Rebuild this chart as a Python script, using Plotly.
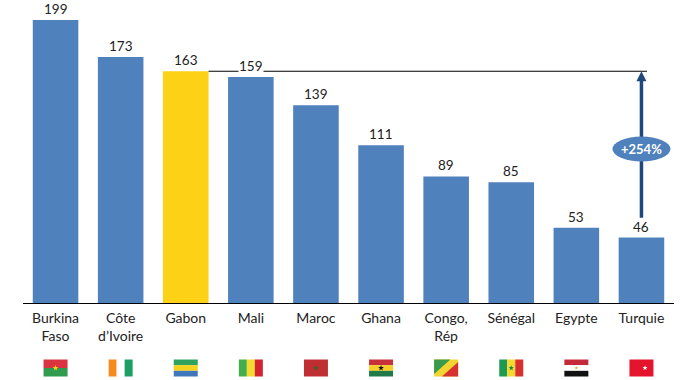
import math
import plotly.graph_objects as go

categories = ["Burkina<br>Faso", "Côte<br>d’Ivoire", "Gabon", "Mali", "Maroc", "Ghana",
              "Congo,<br>Rép", "Sénégal", "Egypte", "Turquie"]
values = [199, 173, 163, 159, 139, 111, 89, 85, 53, 46]
bar_colors = ["#4F81BD", "#4F81BD", "#FCD116", "#4F81BD", "#4F81BD", "#4F81BD",
              "#4F81BD", "#4F81BD", "#4F81BD", "#4F81BD"]
reference_value = 163
arrow_base_value = 60
badge_text = "+254%"

FONT = "Lato, Carlito, Calibri, sans-serif"
TXT = "#222222"
W, H = 686, 380
L, R, T, B = 23, 12, 0, 77
PLOT_H = H - T - B
ARROW = "#1F497D"
W_F, H_F = 12, 8.5

fig = go.Figure(go.Bar(x=categories, y=values, marker=dict(color=bar_colors, line_width=0),
                       width=0.7, hoverinfo="skip"))


def rect(x0, y0, x1, y1):
    return f"M{x0},{y0} L{x1},{y0} L{x1},{y1} L{x0},{y1} Z"


def star(cx, cy, r, n=5):
    pts = []
    for k in range(2 * n):
        rad = r if k % 2 == 0 else r * 0.42
        a = math.pi / 2 + k * math.pi / n
        pts.append((cx + rad * math.cos(a), cy + rad * math.sin(a)))
    return "M" + " L".join(f"{px:.2f},{py:.2f}" for px, py in pts) + " Z"


def circle(cx, cy, rx, ry=None):
    ry = ry or rx
    return (f"M{cx-rx},{cy} A{rx},{ry} 0 1 0 {cx+rx},{cy} "
            f"A{rx},{ry} 0 1 0 {cx-rx},{cy} Z")


def hstripes(cols, weights=None):
    weights = weights or [1] * len(cols)
    total, y, out = sum(weights), H_F, []
    for c, w in zip(cols, weights):
        h = 2 * H_F * w / total
        out.append((rect(-W_F, y, W_F, y - h), c))
        y -= h
    return out


def vstripes(cols):
    x, out = -W_F, []
    w = 2 * W_F / len(cols)
    for c in cols:
        out.append((rect(x, -H_F, x + w, H_F), c))
        x += w
    return out


flags = [
    hstripes(["#D9343F", "#2E9B4F"]) + [(star(0, 0, 3), "#F5D020")],
    vstripes(["#F58A1F", "#FFFFFF", "#1F9E63"]),
    hstripes(["#2FA35E", "#F4D21F", "#3F77BD"]),
    vstripes(["#45AE4C", "#F5D92E", "#D2232F"]),
    [(rect(-W_F, -H_F, W_F, H_F), "#BE2E33"), (star(0, 0, 3.2), "#4A5A30")],
    hstripes(["#C8303A", "#F5CF25", "#1F7A4A"]) + [(star(0, 0, 3), "#111111")],
    [(rect(-W_F, -H_F, W_F, H_F), "#F2D530"),
     (f"M{-W_F},{H_F} L{W_F*0.35},{H_F} L{-W_F},{-H_F*0.7} Z", "#3A9A4B"),
     (f"M{W_F},{-H_F} L{-W_F*0.35},{-H_F} L{W_F},{H_F*0.7} Z", "#D8322E")],
    vstripes(["#1E9A50", "#F5D92E", "#D9302F"]) + [(star(0, 0, 2.8), "#1E8A4A")],
    hstripes(["#C42B3A", "#FFFFFF", "#111111"]) + [(star(0, 0, 2), "#D8B64A")],
    [(rect(-W_F, -H_F, W_F, H_F), "#E3142B"),
     (circle(-3, 0, 5), "#FFFFFF"), (circle(-1.6, 0, 4), "#E3142B"),
     (star(3.6, 0, 2.6), "#FFFFFF")],
]

anchor_y = -(368 - PLOT_H) / PLOT_H
shapes = []
for i, parts in enumerate(flags):
    for path, col in parts:
        shapes.append(dict(type="path", xref="x", yref="paper", xsizemode="pixel",
                           ysizemode="pixel", xanchor=i, yanchor=anchor_y, path=path,
                           fillcolor=col, line_width=0, layer="above"))

last = len(categories) - 1
shapes.append(dict(type="line", xref="x", yref="y", x0=2.35, x1=last + 0.085,
                   y0=reference_value, y1=reference_value, line=dict(color="#000000", width=1.2)))
shapes.append(dict(type="line", xref="x", yref="y", x0=last, x1=last,
                   y0=arrow_base_value, y1=reference_value - 5, line=dict(color=ARROW, width=3.5)))
shapes.append(dict(type="path", xref="x", yref="y", xsizemode="pixel", ysizemode="pixel",
                   xanchor=last, yanchor=reference_value,
                   path="M0,0 L5,-10 L-5,-10 Z", fillcolor=ARROW, line_width=0))
badge_y = (303 - 149) / (PLOT_H / 213.1)
shapes.append(dict(type="circle", xref="x", yref="y", xsizemode="pixel", ysizemode="pixel",
                   xanchor=last, yanchor=badge_y, x0=-29, x1=29, y0=-12.5, y1=12.5,
                   fillcolor="#4F81BD", line_width=0))

annotations = [dict(x=c, y=v, text=str(v), showarrow=False, yanchor="bottom", yshift=2,
                    font=dict(family=FONT, size=13.5, color=TXT), bgcolor="#FFFFFF",
                    borderpad=0)
               for c, v in zip(categories, values)]
annotations.append(dict(x=last, y=badge_y, text=f"<b>{badge_text}</b>", showarrow=False,
                        font=dict(family=FONT, size=13, color="#FFFFFF")))

fig.update_layout(
    width=W, height=H, margin=dict(l=L, r=R, t=T, b=B, autoexpand=False),
    paper_bgcolor="#FFFFFF", plot_bgcolor="#FFFFFF", showlegend=False,
    shapes=shapes, annotations=annotations, bargap=0.3,
    xaxis=dict(type="category", categoryorder="array", categoryarray=categories,
               range=[-0.5, 9.5], showgrid=False, zeroline=False, showline=True,
               linecolor="#000000", linewidth=1.3, ticks="", automargin=False,
               tickangle=0, tickfont=dict(family=FONT, size=14, color=TXT), ticklabelstandoff=2),
    yaxis=dict(range=[0, 213.1], visible=False, automargin=False),
)
fig.write_html("out.html", config=dict(displayModeBar=False),
               post_script="document.body.style.margin='0';document.documentElement.style.overflow='hidden';")
